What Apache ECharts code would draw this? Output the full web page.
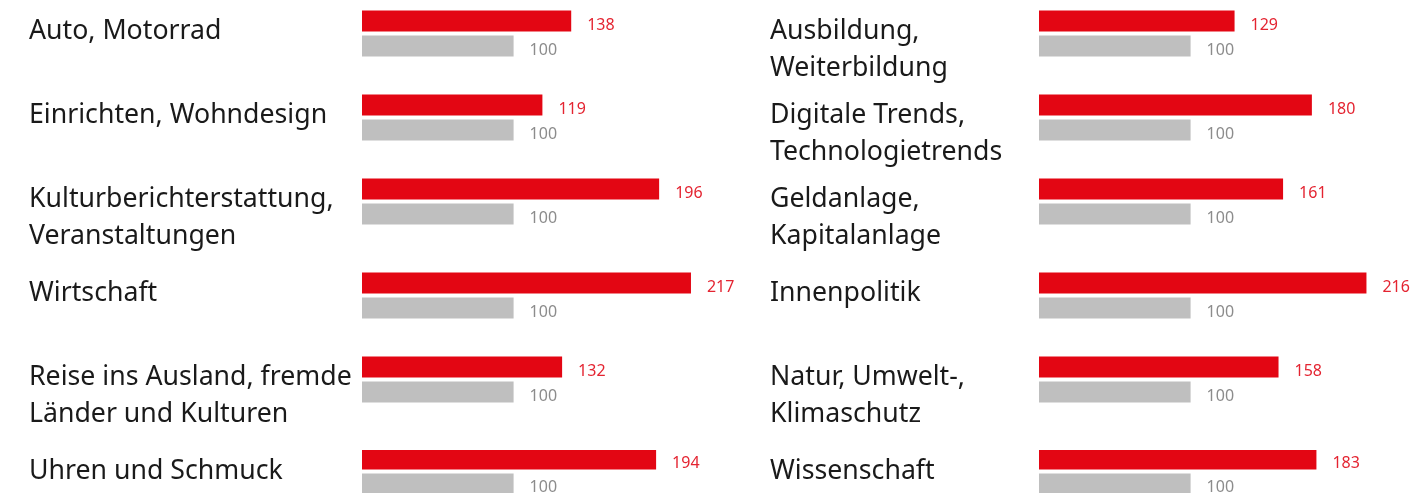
<!DOCTYPE html>
<html>
<head>
<meta charset="utf-8">
<script src="https://cdn.jsdelivr.net/npm/echarts@6/dist/echarts.min.js"></script>
<style>
  html, body { margin: 0; padding: 0; background: #fff; }
  #main { width: 1427px; height: 493px; }
</style>
</head>
<body>
<div id="main"></div>
<script>
var leftTopics = [
  'Auto, Motorrad',
  'Einrichten, Wohndesign',
  'Kulturberichterstattung,\nVeranstaltungen',
  'Wirtschaft',
  'Reise ins Ausland, fremde\nLänder und Kulturen',
  'Uhren und Schmuck'
];
var leftValues = [138, 119, 196, 217, 132, 194];
var leftBase = [100, 100, 100, 100, 100, 100];

var rightTopics = [
  'Ausbildung,\nWeiterbildung',
  'Digitale Trends,\nTechnologietrends',
  'Geldanlage,\nKapitalanlage',
  'Innenpolitik',
  'Natur, Umwelt-,\nKlimaschutz',
  'Wissenschaft'
];
var rightValues = [129, 180, 161, 216, 158, 183];
var rightBase = [100, 100, 100, 100, 100, 100];

var rowTops = [10, 94, 178, 272, 356, 450];

var RED = '#e30613';
var GREY = '#bfbfbf';
var FONT = '"Noto Sans", "Open Sans", sans-serif';

var chart = echarts.init(document.getElementById('main'));

var option = {
  animation: false,
  backgroundColor: '#fff',
  title: [],
  grid: [],
  xAxis: [],
  yAxis: [],
  series: []
};

function addColumn(topics, values, base, labelLeft, barLeft) {
  for (var i = 0; i < topics.length; i++) {
    var idx = option.grid.length;
    option.title.push({
      text: topics[i],
      left: labelLeft,
      top: rowTops[i] + 3,
      padding: 0,
      textStyle: {
        fontFamily: FONT,
        fontSize: 26.7,
        fontWeight: 'normal',
        lineHeight: 37,
        color: '#1a1a1a'
      }
    });
    option.grid.push({
      left: barLeft,
      top: rowTops[i],
      width: 379,
      height: 47
    });
    option.xAxis.push({
      type: 'value',
      gridIndex: idx,
      min: 0,
      max: 250,
      show: false
    });
    option.yAxis.push({
      type: 'category',
      gridIndex: idx,
      inverse: true,
      data: [topics[i]],
      show: false
    });
    option.series.push({
      type: 'bar',
      xAxisIndex: idx,
      yAxisIndex: idx,
      data: [values[i]],
      barWidth: 21,
      barGap: '19%',
      itemStyle: { color: RED },
      label: {
        show: true,
        position: 'right',
        distance: 16,
        offset: [0, 4],
        fontFamily: FONT,
        fontSize: 16,
        color: '#e42431'
      },
      silent: true
    });
    option.series.push({
      type: 'bar',
      xAxisIndex: idx,
      yAxisIndex: idx,
      data: [base[i]],
      barWidth: 21,
      barGap: '19%',
      itemStyle: { color: GREY },
      label: {
        show: true,
        position: 'right',
        distance: 16,
        offset: [0, 4],
        fontFamily: FONT,
        fontSize: 16,
        color: '#8c8c8c'
      },
      silent: true
    });
  }
}

addColumn(leftTopics, leftValues, leftBase, 29, 362);
addColumn(rightTopics, rightValues, rightBase, 770, 1039);

chart.setOption(option);
</script>
</body>
</html>
